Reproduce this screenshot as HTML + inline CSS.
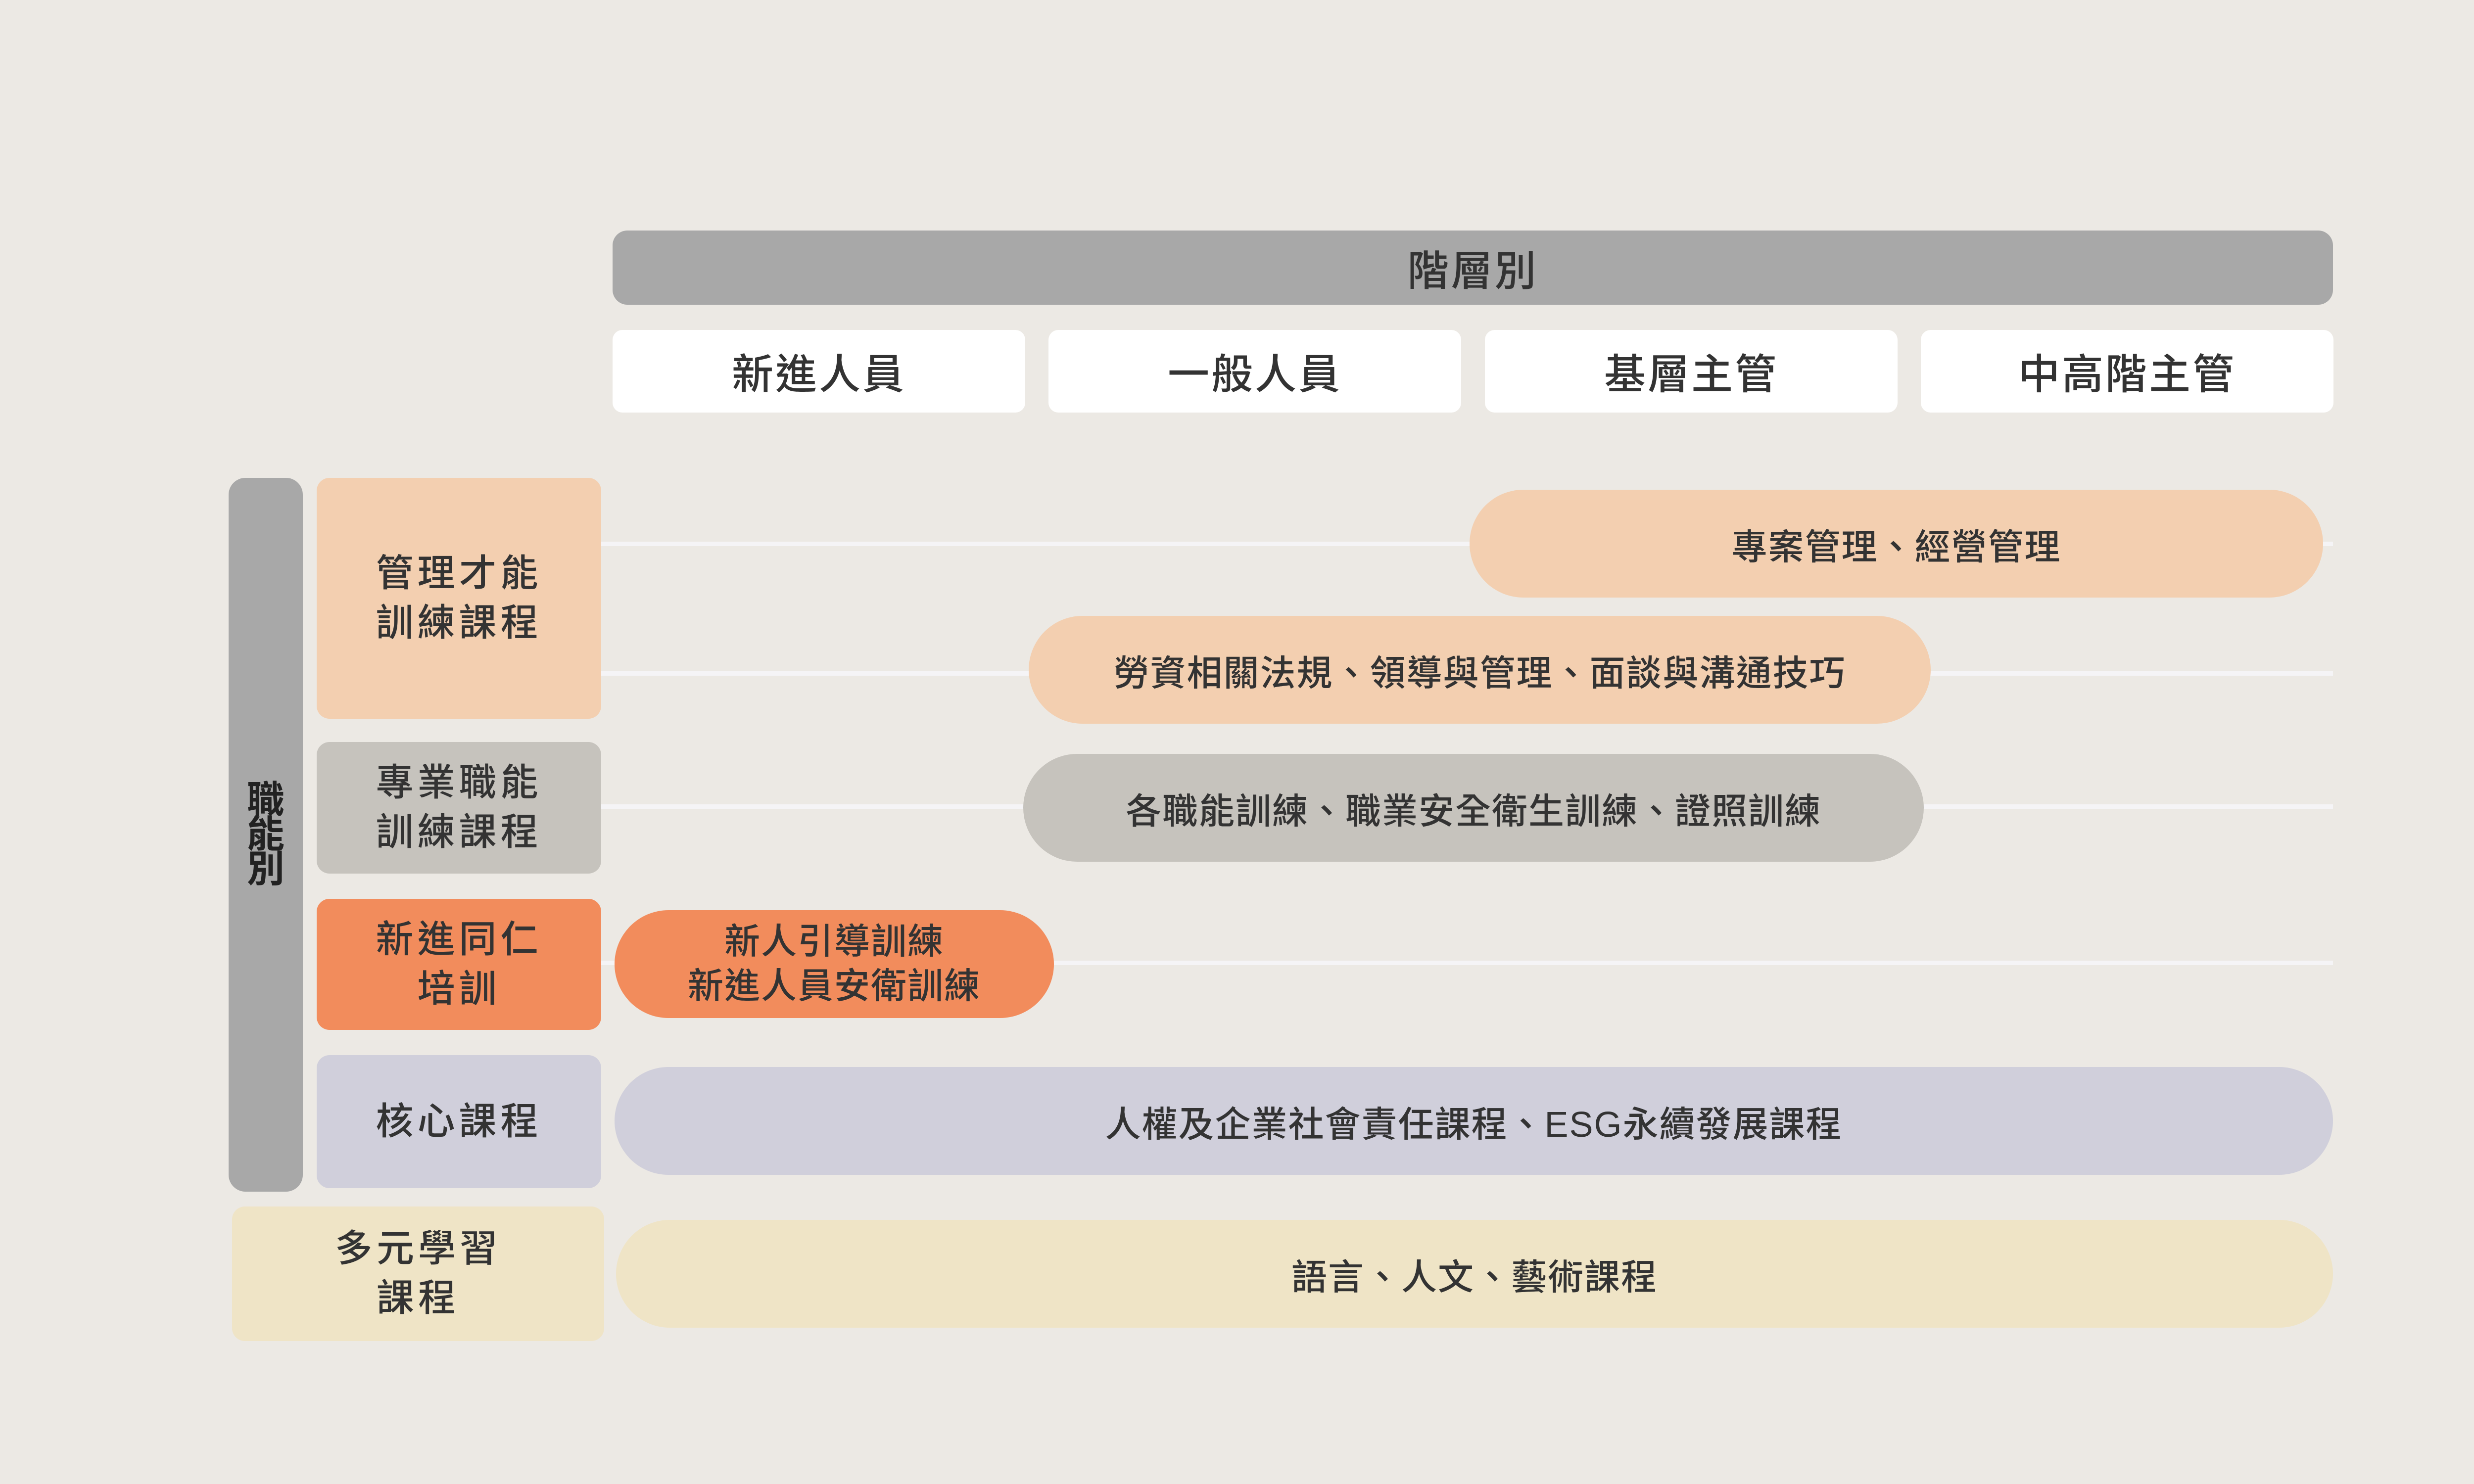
<!DOCTYPE html>
<html><head><meta charset="utf-8"><style>
*{margin:0;padding:0;box-sizing:border-box}
body{width:5334px;height:3000px;background:#ece9e4;position:relative;overflow:hidden;font-family:"Liberation Sans","Noto Sans CJK TC",sans-serif;color:#333;font-weight:500}
.a{position:absolute;display:flex;align-items:center;justify-content:center;text-align:center}
.line{position:absolute;height:9px;background:#f5f4f6;left:1215px;width:3500px}
.cat{font-size:76px;line-height:100px;letter-spacing:8px;border-radius:26px}
.pill{font-size:72px;border-radius:110px;letter-spacing:2px}
.col{background:#fff;border-radius:20px;font-size:84px;top:667px;height:167px;width:834px;letter-spacing:4px}
</style></head><body>
<div class="a" style="left:1238px;top:466px;width:3477px;height:150px;background:#a8a8a8;border-radius:30px;font-size:84px;letter-spacing:4px">階層別</div>
<div class="a col" style="left:1238px">新進人員</div>
<div class="a col" style="left:2119px">一般人員</div>
<div class="a col" style="left:3001px">基層主管</div>
<div class="a col" style="left:3882px">中高階主管</div>

<div class="line" style="top:1095px"></div>
<div class="line" style="top:1357px"></div>
<div class="line" style="top:1626px"></div>
<div class="line" style="top:1942px"></div>

<div class="a" style="left:462px;top:966px;width:150px;height:1443px;background:#a8a8a8;border-radius:34px;font-size:76px;line-height:70px;color:#222;font-weight:bold"><div style="width:90px">職<br>能<br>別</div></div>

<div class="a cat" style="left:640px;top:966px;width:575px;height:487px;background:#f3cfb0">管理才能<br>訓練課程</div>
<div class="a cat" style="left:640px;top:1500px;width:575px;height:266px;background:#c6c3bd">專業職能<br>訓練課程</div>
<div class="a cat" style="left:640px;top:1817px;width:575px;height:265px;background:#f28c5c">新進同仁<br>培訓</div>
<div class="a cat" style="left:640px;top:2133px;width:575px;height:269px;background:#d0cfdb">核心課程</div>
<div class="a cat" style="left:469px;top:2439px;width:752px;height:272px;background:#efe4c6">多元學習<br>課程</div>

<div class="a pill" style="left:2970px;top:990px;width:1725px;height:218px;background:#f3cfb0">專案管理、經營管理</div>
<div class="a pill" style="left:2079px;top:1245px;width:1823px;height:218px;background:#f3cfb0">勞資相關法規、領導與管理、面談與溝通技巧</div>
<div class="a pill" style="left:2068px;top:1524px;width:1820px;height:218px;background:#c6c3bd">各職能訓練、職業安全衛生訓練、證照訓練</div>
<div class="a pill" style="left:1242px;top:1840px;width:888px;height:218px;background:#f28c5c;line-height:90px">新人引導訓練<br>新進人員安衛訓練</div>
<div class="a pill" style="left:1242px;top:2157px;width:3473px;height:218px;background:#d0cfdb">人權及企業社會責任課程、ESG永續發展課程</div>
<div class="a pill" style="left:1245px;top:2466px;width:3470px;height:218px;background:#efe4c6">語言、人文、藝術課程</div>
</body></html>
